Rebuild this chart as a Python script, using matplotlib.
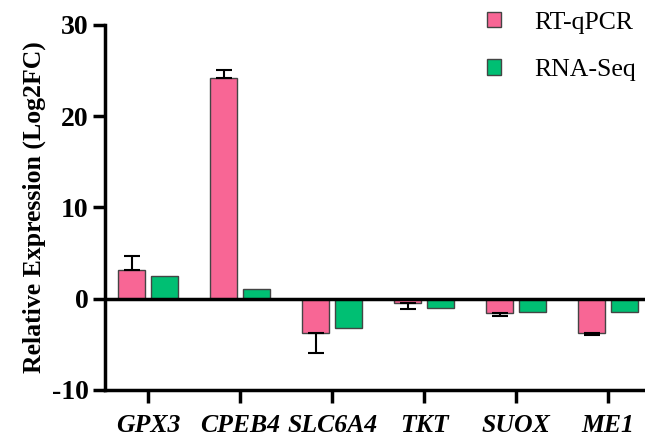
import matplotlib.pyplot as plt
import numpy as np

plt.rcParams['font.family'] = ['Liberation Serif', 'DejaVu Serif']
plt.rcParams['axes.unicode_minus'] = False

genes = ['GPX3', 'CPEB4', 'SLC6A4', 'TKT', 'SUOX', 'ME1']
qpcr = [3.2, 24.2, -3.8, -0.5, -1.6, -3.8]
qpcr_err = [1.5, 0.9, 2.1, 0.6, 0.3, 0.15]
rnaseq = [2.5, 1.1, -3.2, -1.0, -1.45, -1.45]

pink = '#F86695'
green = '#00BF73'

fig = plt.figure(figsize=(6.45, 4.37), dpi=100)
ax = fig.add_axes([0.163, 0.1076, 0.837, 0.8354])

x = np.arange(len(genes))
w = 0.29
off = 0.178
ax.bar(x - off, qpcr, w, color=pink, edgecolor='#444444', linewidth=1.0, label='RT-qPCR', zorder=2)
ax.bar(x + off, rnaseq, w, color=green, edgecolor='#444444', linewidth=1.0, label='RNA-Seq', zorder=2)

# one-sided error bars pointing away from zero
q = np.array(qpcr)
e = np.array(qpcr_err)
lower = np.where(q < 0, e, 0)
upper = np.where(q >= 0, e, 0)
ax.errorbar(x - off, q, yerr=[lower, upper], fmt='none', ecolor='black',
            elinewidth=1.5, capsize=6, capthick=1.5, zorder=3)

ax.axhline(0, color='black', linewidth=2.5, zorder=4)

ax.set_xlim(-0.467, 5.40)
ax.set_ylim(-10, 30)
ax.set_yticks([-10, 0, 10, 20, 30])
ax.set_xticks(x)
ax.set_xticklabels(genes, style='italic', fontweight='bold', fontsize=18.5)
for t in ax.get_yticklabels():
    t.set_fontweight('bold')
    t.set_fontsize(20)

for s in ['top', 'right']:
    ax.spines[s].set_visible(False)
for s in ['left', 'bottom']:
    ax.spines[s].set_linewidth(2.5)
ax.tick_params(axis='both', width=2.5, length=9, pad=3)
ax.tick_params(axis='x', pad=8)

ax.set_ylabel('Relative Expression (Log2FC)', fontsize=18.5, fontweight='bold', labelpad=4)

leg = ax.legend(loc='upper right', bbox_to_anchor=(1.027, 1.10), frameon=False,
                fontsize=18.5, handlelength=0.55, handleheight=0.55,
                handletextpad=1.3, labelspacing=1.0)

fig.savefig('out.png', dpi=100)
